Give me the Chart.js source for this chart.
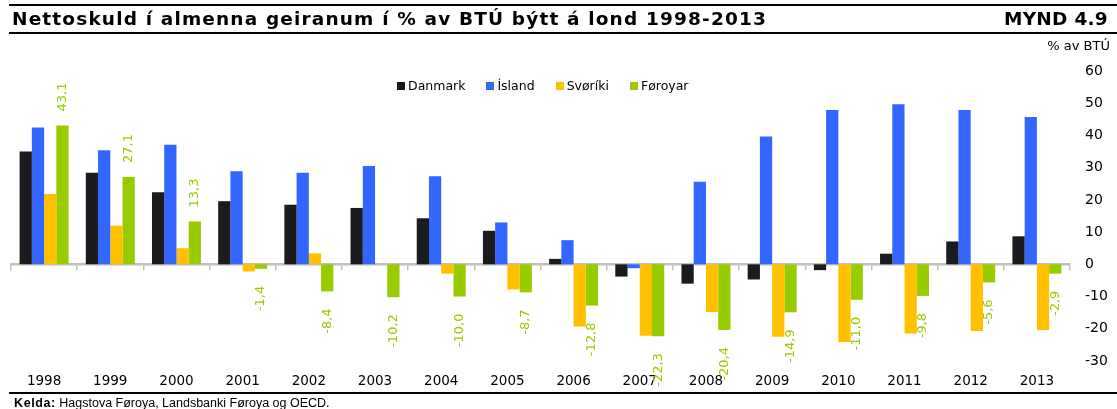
<!DOCTYPE html>
<html>
<head>
<meta charset="utf-8">
<script src="https://cdn.jsdelivr.net/npm/chart.js@4/dist/chart.umd.min.js"></script>
<style>
  html, body { margin: 0; padding: 0; background: #fff; }
  #wrap { position: relative; width: 1117px; height: 409px; overflow: hidden; font-family: "DejaVu Sans", Verdana, sans-serif; }
  canvas { position: absolute; left: 0; top: 0; }
  .line { position: absolute; left: 9px; right: 0; height: 2px; background: #000; }
  #title { position: absolute; left: 12px; top: 19px; transform: translateY(-50%); font-weight: bold; font-size: 18.5px; color: #000; white-space: nowrap; line-height: 1; }
  #fig { position: absolute; right: 9px; top: 19px; transform: translateY(-50%); font-weight: bold; font-size: 18.5px; color: #000; white-space: nowrap; line-height: 1; }
  #unit { position: absolute; right: 7px; top: 38px; font-size: 13px; color: #000; white-space: nowrap; }
  #legend { position: absolute; left: 397px; top: 78px; font-size: 12.5px; color: #000; white-space: nowrap; display: flex; align-items: center; }
  #legend .it { display: flex; align-items: center; margin-right: 21px; }
  #legend .sw { width: 8px; height: 8px; margin-right: 3px; }
  #src { position: absolute; left: 14px; top: 396px; font-family: "Liberation Sans", Arial, sans-serif; font-size: 12.5px; color: #000; white-space: nowrap; }
  #src b { letter-spacing: 0.6px; }
</style>
</head>
<body>
<div id="wrap">
  <canvas id="c" width="1117" height="409"></canvas>
  <div class="line" style="top:4px"></div>
  <div id="title">Nettoskuld í almenna geiranum í % av BTÚ býtt á lond 1998-2013</div>
  <div id="fig">MYND 4.9</div>
  <div class="line" style="top:32px"></div>
  <div id="unit">% av BTÚ</div>
  <div id="legend"></div>
  <div class="line" style="top:392px"></div>
  <div id="src"><b>Kelda:</b> Hagstova Føroya, Landsbanki Føroya og OECD.</div>
</div>
<script>
const years = ['1998','1999','2000','2001','2002','2003','2004','2005','2006','2007','2008','2009','2010','2011','2012','2013'];
const seriesNames = ['Danmark', 'Ísland', 'Svøríki', 'Føroyar'];
const danmark = [35.0, 28.4, 22.4, 19.6, 18.5, 17.5, 14.3, 10.4, 1.7, -3.8, -6.0, -4.7, -1.8, 3.3, 7.1, 8.7];
const island  = [42.5, 35.4, 37.1, 28.9, 28.4, 30.5, 27.3, 13.0, 7.5, -1.2, 25.6, 39.7, 47.9, 49.7, 47.9, 45.7];
const sviriki = [21.8, 12.0, 5.0, -2.2, 3.4, 0, -2.9, -7.8, -19.3, -22.2, -14.8, -22.5, -24.1, -21.5, -20.7, -20.4];
const foroyar = [43.1, 27.1, 13.3, -1.4, -8.4, -10.2, -10.0, -8.7, -12.8, -22.3, -20.4, -14.9, -11.0, -9.8, -5.6, -2.9];
const yTicks = [60, 50, 40, 30, 20, 10, 0, -10, -20, -30];
const colors = ['#1a1b1f', '#3366ff', '#ffc000', '#99cc00'];

// fit heading widths with letter spacing
function fitSpacing(el, target) {
  const w = el.getBoundingClientRect().width;
  const n = el.textContent.length;
  el.style.letterSpacing = ((target - w) / n).toFixed(3) + 'px';
}
fitSpacing(document.getElementById('title'), 755);
fitSpacing(document.getElementById('fig'), 104);

// legend (HTML text)
const lg = document.getElementById('legend');
seriesNames.forEach((n, i) => {
  const it = document.createElement('div'); it.className = 'it';
  const sw = document.createElement('div'); sw.className = 'sw'; sw.style.background = colors[i];
  const tx = document.createElement('span'); tx.textContent = n;
  it.appendChild(sw); it.appendChild(tx); lg.appendChild(it);
});

const labelPlugin = {
  id: 'foLabels',
  afterDatasetsDraw(chart) {
    const ctx = chart.ctx;
    const meta = chart.getDatasetMeta(3);
    ctx.save();
    ctx.font = '13px "DejaVu Sans", Verdana, sans-serif';
    ctx.fillStyle = '#99cc00';
    ctx.textBaseline = 'middle';
    meta.data.forEach((bar, i) => {
      const v = foroyar[i];
      const txt = v.toFixed(1).replace('.', ',');
      ctx.save();
      if (v >= 0) {
        ctx.translate(bar.x, bar.y - 14);
        ctx.rotate(-Math.PI / 2);
        ctx.textAlign = 'left';
      } else {
        ctx.translate(bar.x, bar.y + 17);
        ctx.rotate(-Math.PI / 2);
        ctx.textAlign = 'right';
      }
      ctx.fillText(txt, 0, 0);
      ctx.restore();
    });
    ctx.restore();
  }
};

const mk = (label, data, color) => ({
  label, data, backgroundColor: color, borderWidth: 0,
  categoryPercentage: 0.74, barPercentage: 1.0, xAxisID: 'x', yAxisID: 'y'
});

new Chart(document.getElementById('c'), {
  type: 'bar',
  data: {
    labels: years,
    datasets: [
      mk(seriesNames[0], danmark, colors[0]),
      mk(seriesNames[1], island, colors[1]),
      mk(seriesNames[2], sviriki, colors[2]),
      mk(seriesNames[3], foroyar, colors[3])
    ]
  },
  options: {
    responsive: false,
    animation: false,
    devicePixelRatio: 1,
    layout: { padding: { top: 71, left: 11, right: 0, bottom: 0 } },
    plugins: { legend: { display: false }, tooltip: { enabled: false } },
    scales: {
      x: {
        type: 'category', position: 'bottom', offset: true,
        grid: { display: false, drawTicks: false }, border: { display: false },
        ticks: { color: '#000', font: { family: '"DejaVu Sans", Verdana, sans-serif', size: 13.5 }, padding: 12, maxRotation: 0, autoSkip: false },
        afterFit(s) { s.height = 48; }
      },
      x0: {
        type: 'category', position: { y: 0 }, offset: true, z: 1,
        grid: { display: true, drawOnChartArea: false, drawTicks: true, tickLength: 5, offset: true, color: '#c0c0c0', lineWidth: 1.5 },
        border: { display: true, color: '#c0c0c0', width: 2.5 },
        ticks: { display: false }
      },
      y: {
        position: 'right', min: -30, max: 60,
        grid: { display: false, drawTicks: false }, border: { display: false },
        afterBuildTicks(s) { s.ticks = yTicks.map(v => ({ value: v })); },
        ticks: { color: '#000', font: { family: '"DejaVu Sans", Verdana, sans-serif', size: 14 }, padding: 15 },
        afterFit(s) { s.width = 47; }
      }
    }
  },
  plugins: [labelPlugin]
});
</script>
</body>
</html>
